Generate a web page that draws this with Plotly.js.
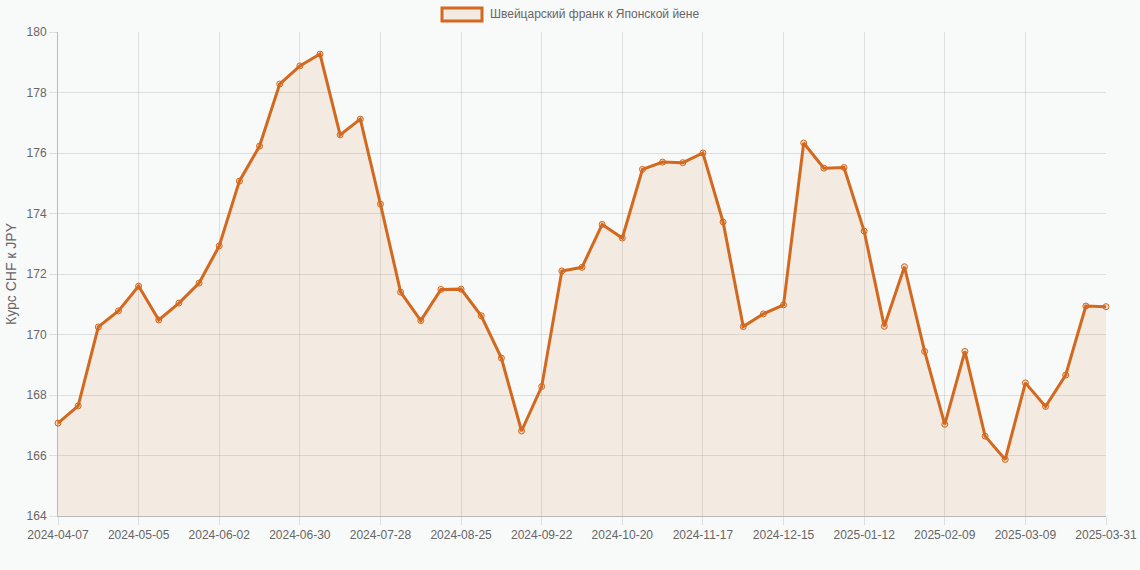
<!DOCTYPE html>
<html>
<head>
<meta charset="utf-8">
<script src="https://cdn.plot.ly/plotly-3.0.1.min.js"></script>
<style>
  html, body { margin: 0; padding: 0; background: #f8f9f9; }
  #chart { width: 1140px; height: 570px; }
</style>
</head>
<body>
<div id="chart"></div>
<script>
// недельные даты + последняя дата периода
const dates = [
  '2024-04-07','2024-04-14','2024-04-21','2024-04-28','2024-05-05','2024-05-12','2024-05-19','2024-05-26',
  '2024-06-02','2024-06-09','2024-06-16','2024-06-23','2024-06-30','2024-07-07','2024-07-14','2024-07-21',
  '2024-07-28','2024-08-04','2024-08-11','2024-08-18','2024-08-25','2024-09-01','2024-09-08','2024-09-15',
  '2024-09-22','2024-09-29','2024-10-06','2024-10-13','2024-10-20','2024-10-27','2024-11-03','2024-11-10',
  '2024-11-17','2024-11-24','2024-12-01','2024-12-08','2024-12-15','2024-12-22','2024-12-29','2025-01-05',
  '2025-01-12','2025-01-19','2025-01-26','2025-02-02','2025-02-09','2025-02-16','2025-02-23','2025-03-02',
  '2025-03-09','2025-03-16','2025-03-23','2025-03-30','2025-03-31'
];

const chfJpy = [
  167.07, 167.64, 170.25, 170.78, 171.60, 170.48, 171.04, 171.70,
  172.93, 175.07, 176.23, 178.28, 178.88, 179.27, 176.60, 177.12,
  174.31, 171.40, 170.46, 171.49, 171.50, 170.62, 169.22, 166.81,
  168.28, 172.10, 172.22, 173.64, 173.19, 175.46, 175.70, 175.68,
  176.00, 173.72, 170.26, 170.68, 170.98, 176.33, 175.50, 175.52,
  173.42, 170.27, 172.24, 169.44, 167.03, 169.44, 166.64, 165.87,
  168.40, 167.62, 168.66, 170.94, 170.92
];

const seriesName = 'Швейцарский франк к Японской йене';
const yTitle = 'Курс CHF к JPY';

const lineColor = '#d2691e';
const gridColor = 'rgba(0,0,0,0.1)';

// подписи оси X: каждая четвёртая неделя и последняя дата
const tickDates = dates.filter((d, i) => i % 4 === 0 || i === dates.length - 1);

const trace = {
  x: dates,
  y: chfJpy,
  type: 'scatter',
  mode: 'lines+markers',
  fill: 'tozeroy',
  fillcolor: 'rgba(210,105,30,0.1)',
  line: { color: lineColor, width: 3 },
  marker: {
    size: 6,
    color: 'rgba(210,105,30,0.2)',
    line: { color: lineColor, width: 1 }
  },
  cliponaxis: false,
  name: seriesName,
  hoverinfo: 'x+y'
};

// legend drawn like a Chart.js box
const plotL = 58, plotR = 1106, plotT = 32, plotB = 516;
const px = v => (v - plotL) / (plotR - plotL);
const py = v => (plotB - v) / (plotB - plotT);

const layout = {
  width: 1140,
  height: 570,
  margin: { l: plotL, r: 1140 - plotR, t: plotT, b: 570 - plotB },
  paper_bgcolor: '#f8f9f9',
  plot_bgcolor: '#f8f9f9',
  showlegend: false,
  font: { family: 'Liberation Sans, Arial, sans-serif', size: 12, color: '#666' },
  xaxis: {
    type: 'category',
    range: [0, dates.length - 1],
    tickmode: 'array',
    tickvals: tickDates,
    ticktext: tickDates,
    tickangle: 0,
    showgrid: true,
    gridcolor: gridColor,
    ticks: 'outside',
    ticklen: 8,
    tickcolor: gridColor,
    showline: true,
    linecolor: 'rgba(0,0,0,0.25)',
    linewidth: 1,
    zeroline: false,
    tickfont: { size: 12, color: '#666' }
  },
  yaxis: {
    range: [164, 180],
    dtick: 2,
    showgrid: true,
    gridcolor: gridColor,
    ticks: 'outside',
    ticklen: 8,
    tickcolor: gridColor,
    showline: true,
    linecolor: 'rgba(0,0,0,0.25)',
    linewidth: 1,
    zeroline: false,
    tickfont: { size: 12, color: '#666' },
    title: { text: yTitle, font: { size: 14, color: '#666' }, standoff: 6 }
  },
  shapes: [{
    type: 'rect',
    xref: 'paper', yref: 'paper',
    x0: px(442), x1: px(482), y0: py(21), y1: py(8),
    fillcolor: 'rgba(210,105,30,0.1)',
    line: { color: lineColor, width: 3 }
  }],
  annotations: [{
    xref: 'paper', yref: 'paper',
    x: px(488), y: py(14.5),
    xanchor: 'left', yanchor: 'middle',
    text: seriesName,
    showarrow: false,
    font: { size: 12, color: '#666' }
  }]
};

Plotly.newPlot('chart', [trace], layout, { displayModeBar: false, staticPlot: true });
</script>
</body>
</html>
